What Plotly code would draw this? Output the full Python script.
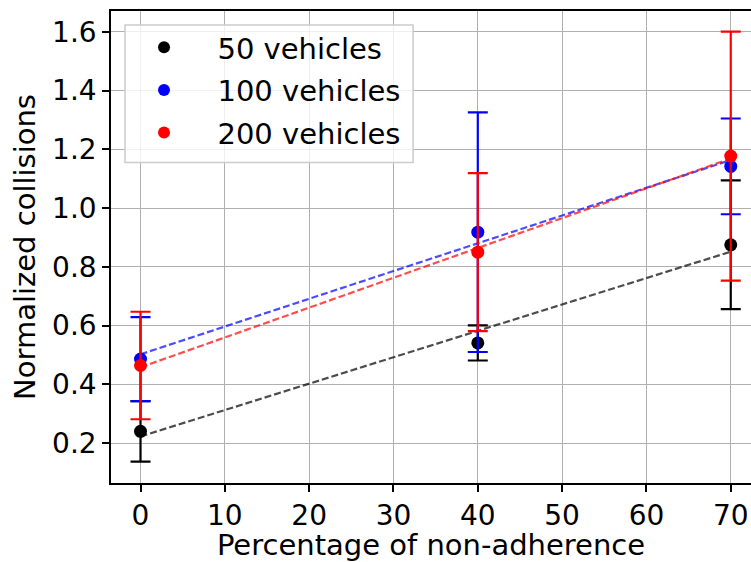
import numpy as np
import plotly.graph_objects as go

x_vals = [0, 40, 70]
series_names = ["50 vehicles", "100 vehicles", "200 vehicles"]
means_50 = [0.240, 0.541, 0.875]
errs_50 = [0.103, 0.060, 0.219]
means_100 = [0.486, 0.918, 1.142]
errs_100 = [0.143, 0.408, 0.163]
means_200 = [0.464, 0.850, 1.177]
errs_200 = [0.183, 0.269, 0.424]
colors = ["#000000", "#0000ff", "#ff0000"]
fit_colors = ["rgba(0,0,0,0.7)", "rgba(0,0,255,0.7)", "rgba(255,0,0,0.7)"]
x_ticks = [0, 10, 20, 30, 40, 50, 60, 70]
y_ticks = [0.2, 0.4, 0.6, 0.8, 1.0, 1.2, 1.4, 1.6]

FONT = "DejaVu Sans"
FS = 29
fig = go.Figure()
all_means = [means_50, means_100, means_200]
all_errs = [errs_50, errs_100, errs_200]
for i, (name, m, e) in enumerate(zip(series_names, all_means, all_errs)):
    fig.add_trace(go.Scatter(
        x=x_vals, y=m, mode="markers", name="   \u2009" + name,
        legendgroup=f"g{i}",
        marker=dict(color=colors[i], size=13),
        error_y=dict(type="data", array=e, visible=True, color=colors[i],
                     thickness=2.2, width=10),
    ))
    slope, intercept = np.polyfit(x_vals, m, 1)
    xs = np.array([x_vals[0], x_vals[-1]])
    fig.add_trace(go.Scatter(
        x=xs, y=slope * xs + intercept, mode="lines", showlegend=False,
        line=dict(color=fit_colors[i], width=2.2, dash="7px,3px"),
    ))

# legend frame (drawn as a shape so the legend entries can be positioned freely)
fig.add_shape(type="rect", xref="paper", yref="paper",
              x0=0.0219, x1=0.472, y0=0.679, y1=0.9705,
              fillcolor="rgba(255,255,255,0.8)",
              line=dict(color="#cccccc", width=1.5), layer="above")

fig.update_layout(
    width=751, height=562,
    margin=dict(l=111, r=0, t=11, b=77),
    plot_bgcolor="white", paper_bgcolor="white",
    font=dict(family=FONT, size=FS, color="black"),
    showlegend=True,
    legend=dict(x=0.0516, y=0.977, xanchor="left", yanchor="top",
                bgcolor="rgba(0,0,0,0)", borderwidth=0,
                font=dict(size=FS, family=FONT),
                tracegroupgap=2, itemsizing="constant"),
    xaxis=dict(range=[-3.5, 72.4], tickvals=x_ticks, showgrid=True,
               gridcolor="#b0b0b0", gridwidth=1.3, showline=True,
               linecolor="black", linewidth=1.5, mirror=True,
               ticks="outside", ticklen=7, tickwidth=1.5, tickcolor="black",
               zeroline=False, tickfont=dict(size=FS - 1),
               title=dict(text="Percentage of non-adherence", standoff=9,
                          font=dict(size=FS))),
    yaxis=dict(range=[0.064, 1.671], tickvals=y_ticks,
               ticktext=[f"{v:.1f}" for v in y_ticks], showgrid=True,
               gridcolor="#b0b0b0", gridwidth=1.3, showline=True,
               linecolor="black", linewidth=1.5, mirror=False,
               ticks="outside", ticklen=7, tickwidth=1.5, tickcolor="black",
               zeroline=False, tickfont=dict(size=FS - 1),
               title=dict(text="Normalized collisions", standoff=8,
                          font=dict(size=FS))),
)
fig.write_html("out.html")
